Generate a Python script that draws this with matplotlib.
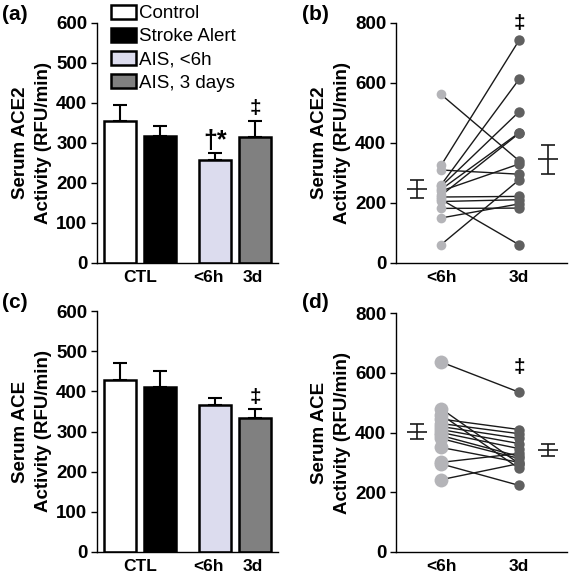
import matplotlib
matplotlib.use("Agg")
import matplotlib.pyplot as plt
import numpy as np

plt.rcParams['font.family'] = ['Liberation Sans', 'DejaVu Sans']

# bar data (a: ACE2, c: ACE)
groups = ['Control', 'Stroke Alert', 'AIS, <6h', 'AIS, 3 days']
bar_colors = ['white', 'black', '#dcdcee', '#808080']
ace2_mean = [355, 318, 258, 316]
ace2_err = [40, 24, 17, 39]
ace_mean = [428, 410, 366, 334]
ace_err = [43, 40, 18, 22]
bar_ticks = ['CTL', '<6h', '3d']

# paired data (b: ACE2, d: ACE)
ace2_6h = [562, 325, 310, 260, 255, 245, 240, 225, 220, 212, 205, 182, 150, 61]
ace2_3d = [341, 742, 296, 612, 504, 434, 330, 432, 222, 61, 211, 183, 197, 277]
ace_6h = [636, 480, 460, 445, 430, 420, 410, 400, 390, 380, 350, 300, 295, 242]
ace_3d = [535, 296, 280, 410, 396, 380, 363, 346, 320, 313, 300, 330, 223, 296]
pair_ticks = ['<6h', '3d']

W, H = 571, 577
fig = plt.figure(figsize=(W / 100, H / 100), dpi=100)


def px_axes(x0, y0, x1, y1):
    return fig.add_axes([x0 / W, 1 - y1 / H, (x1 - x0) / W, (y1 - y0) / H])


def style(ax, ylabel):
    for s in ['top', 'right']:
        ax.spines[s].set_visible(False)
    for s in ['left', 'bottom']:
        ax.spines[s].set_linewidth(1.0)
    ax.tick_params(axis='y', length=4.5, width=1.0, pad=2.5, labelsize=13.5)
    ax.tick_params(axis='x', length=0, pad=5, labelsize=12.5)
    for lab in ax.get_yticklabels() + ax.get_xticklabels():
        lab.set_fontweight('bold')
    ax.set_ylabel(ylabel, fontsize=13.5, fontweight='bold', labelpad=3, linespacing=1.45)


def bar_panel(ax, means, errs, ylabel):
    pos = np.array([0, 1, 2.375, 3.375])
    bars = ax.bar(pos, means, width=0.8, color=bar_colors, edgecolor='black',
                  linewidth=1.8, zorder=2)
    ax.errorbar(pos, means, yerr=[np.zeros(4), errs], fmt='none', ecolor='black',
                elinewidth=1.5, capsize=4.7, capthick=1.5, zorder=1)
    ax.set_xlim(-0.575, 3.95)
    ax.set_ylim(0, 600)
    ax.set_yticks(range(0, 601, 100))
    ax.set_xticks([0.5, 2.22, 3.32])
    ax.set_xticklabels(bar_ticks)
    style(ax, ylabel)
    return bars, pos


def pair_panel(ax, before, after, ylabel, left_ms, right_ms):
    before = np.array(before)
    after = np.array(after)
    for b, a in zip(before, after):
        ax.plot([0, 1], [b, a], color='#1a1a1a', lw=1.0, zorder=2)
    ax.plot(np.zeros(len(before)), before, 'o', color='#b4b4b8', ms=left_ms,
            mec='none', zorder=3)
    ax.plot(np.ones(len(after)), after, 'o', color='#606060', ms=right_ms,
            mec='none', zorder=3)
    for x, d in [(-0.31, before), (1.37, after)]:
        m = d.mean()
        sem = d.std(ddof=1) / np.sqrt(len(d))
        ax.errorbar([x], [m], yerr=[sem], fmt='_', color='#1a1a1a', ms=15,
                    mew=1.2, elinewidth=1.2, capsize=4.7, capthick=1.2)
    ax.set_xlim(-0.577, 1.615)
    ax.set_ylim(0, 800)
    ax.set_yticks(range(0, 801, 200))
    ax.set_xticks([0, 1])
    ax.set_xticklabels(pair_ticks)
    style(ax, ylabel)


ax_a = px_axes(97, 23, 278, 263)
bars, pos = bar_panel(ax_a, ace2_mean, ace2_err, 'Serum ACE2\nActivity (RFU/min)')
ax_a.text(pos[2], 276, '†*', ha='center', va='bottom', fontsize=18, fontweight='bold')
ax_a.text(pos[3], 362, '‡', ha='center', va='bottom', fontsize=15, fontweight='bold')
ax_a.legend(bars, groups, loc='upper left', bbox_to_anchor=(111 / W, 1 - 5 / H),
            bbox_transform=fig.transFigure, frameon=False, fontsize=13.5,
            handlelength=1.35, handleheight=0.75, handletextpad=0.15,
            labelspacing=0.3, borderaxespad=0, borderpad=0)

ax_b = px_axes(396, 23, 567, 263)
pair_panel(ax_b, ace2_6h, ace2_3d, 'Serum ACE2\nActivity (RFU/min)', 7, 7.5)
ax_b.text(1, 765, '‡', ha='center', va='bottom', fontsize=15, fontweight='bold')

ax_c = px_axes(97, 311, 278, 552)
bars, pos = bar_panel(ax_c, ace_mean, ace_err, 'Serum ACE\nActivity (RFU/min)')
ax_c.text(pos[3], 362, '‡', ha='center', va='bottom', fontsize=15, fontweight='bold')

ax_d = px_axes(396, 313, 567, 552)
pair_panel(ax_d, ace_6h, ace_3d, 'Serum ACE\nActivity (RFU/min)', 10, 7.5)
ax_d.text(1, 585, '‡', ha='center', va='bottom', fontsize=15, fontweight='bold')

for lab, x, y in [('(a)', 2, 14), ('(b)', 302, 14), ('(c)', 2, 303), ('(d)', 302, 303)]:
    fig.text(x / W, 1 - y / H, lab, ha='left', va='center', fontsize=15, fontweight='bold')

fig.savefig('out.png', dpi=100)
